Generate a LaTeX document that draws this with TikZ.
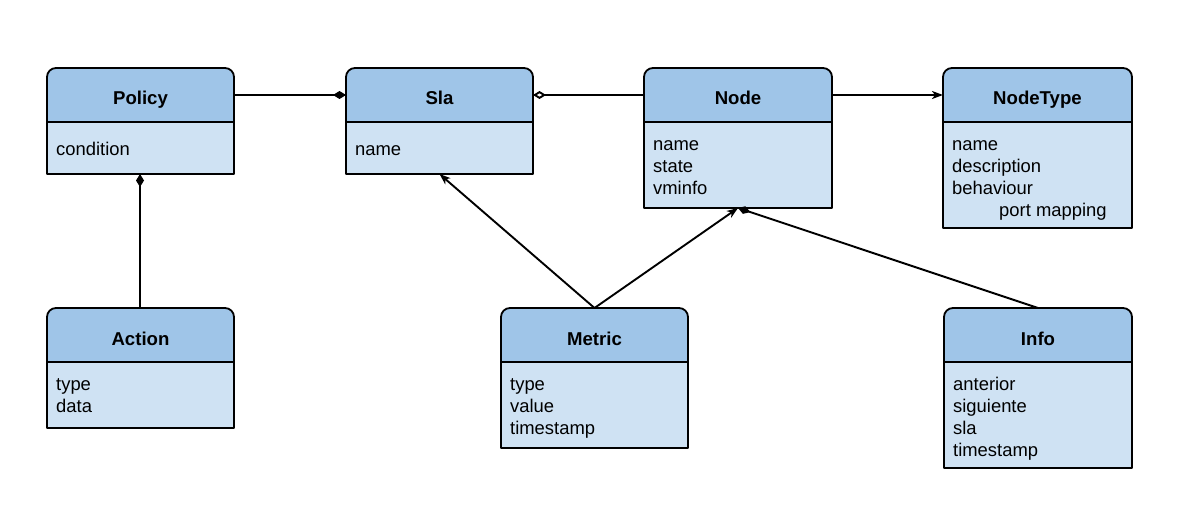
\documentclass[tikz,border=0pt]{standalone}
\usepackage{fontspec}
\setmainfont{Liberation Sans}
\usetikzlibrary{arrows.meta}
\definecolor{hdr}{HTML}{9FC5E8}
\definecolor{bdy}{HTML}{CFE2F3}
\tikzset{
  boxline/.style={draw=black, line width=1.8pt, line join=round},
  region/.style={draw=none, fill=none, inner sep=0pt, outer sep=0pt, rectangle},
  titletext/.style={font=\fontsize{18.6}{22}\selectfont\bfseries, inner sep=0pt, anchor=base},
  attr/.style={font=\fontsize{18.4}{22}\selectfont, inner sep=0pt, anchor=north west, align=left},
  conn/.style={line width=1.9pt},
  arrowhead/.style={-{Stealth[length=11pt,width=8pt,inset=3pt]}},
  comp/.style={-{Diamond[length=13pt,width=8pt]}},
  agg/.style={-{Diamond[open,length=13pt,width=8pt,fill=white]}},
}
% #1 name, #2 x1, #3 y1, #4 x2, #5 header bottom, #6 y2, #7 title, #8 attributes, #9 attr top offset
\newcommand\umlclass[9]{%
  \pgfmathsetmacro\uw{#4-#2}%
  \pgfmathsetmacro\uh{#5-#3}%
  \pgfmathsetmacro\bh{#6-#5}%
  \draw[boxline, fill=hdr] (#2,#5) [rounded corners=9pt] -- (#2,#3) -- (#4,#3) [sharp corners] -- (#4,#5) -- cycle;
  \draw[boxline, fill=bdy] (#2,#5) rectangle (#4,#6);
  \node[region, minimum width=\uw pt, minimum height=\uh pt] (#1) at ({(#2+#4)/2},{(#3+#5)/2}) {};
  \node[region, minimum width=\uw pt, minimum height=\bh pt] (#1-b) at ({(#2+#4)/2},{(#5+#6)/2}) {};
  \node[titletext] (#1-t) at ({(#2+#4)/2},{#3+37}) {#7};
  \node[attr] (#1-a) at ({#2+9},{#5+#9}) {#8};
}
\begin{document}
\begin{tikzpicture}[x=1pt,y=-1pt]
\useasboundingbox (0,0) rectangle (1187,527);
\umlclass{policy}{47}{68}{234}{122}{174}{Policy}{\strut condition}{17.6}
\umlclass{sla}{346}{68}{533}{122}{174}{Sla}{\strut name}{17.6}
\umlclass{node}{644}{68}{832}{122}{208}{Node}{\strut name\\\strut state\\\strut vminfo}{12.6}
\umlclass{nodetype}{943}{68}{1132}{122}{228}{NodeType}{\strut name\\\strut description\\\strut behaviour\\\strut\hspace*{47pt}port mapping}{12.6}
\umlclass{action}{47}{308}{234}{362}{428}{Action}{\strut type\\\strut data}{12.6}
\umlclass{metric}{501}{308}{688}{362}{448}{Metric}{\strut type\\\strut value\\\strut timestamp}{12.6}
\umlclass{info}{944}{308}{1132}{362}{468}{Info}{\strut anterior\\\strut siguiente\\\strut sla\\\strut timestamp}{12.6}

\draw[conn, comp] (policy.east) -- (sla.west);
\draw[conn, agg] (node.west) -- (sla.east);
\draw[conn, arrowhead] (node.east) -- (nodetype.west);
\draw[conn, comp] ([xshift=-0.5pt]action.north) -- ([xshift=-0.5pt]policy-b.south);
\draw[conn, arrowhead] (metric.north) -- (sla-b.south);
\draw[conn, arrowhead] (metric.north) -- (node-b.south);
\draw[conn, comp] (info.north) -- (node-b.south);
\end{tikzpicture}
\end{document}
